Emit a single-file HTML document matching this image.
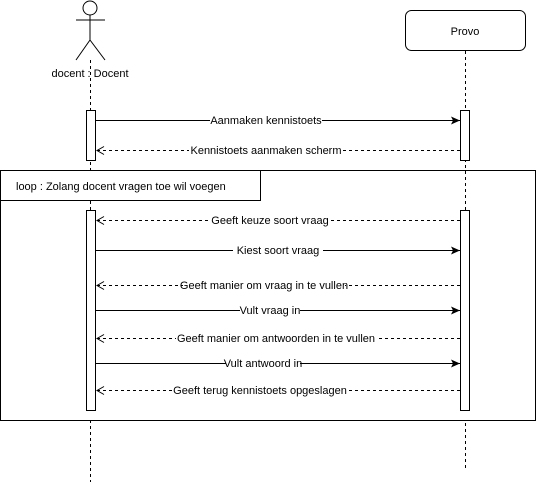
<!DOCTYPE html>
<html><head><meta charset="utf-8"><style>
html,body{margin:0;padding:0;background:#fff;width:537px;height:482px;overflow:hidden}
text{font-family:"Liberation Sans",Arial,sans-serif;font-size:11px;fill:#000}
</style></head><body>
<svg width="537" height="482" viewBox="0 0 537 482" xmlns="http://www.w3.org/2000/svg">
<defs>
<marker id="fa" markerWidth="10" markerHeight="8" refX="9" refY="4" orient="auto" markerUnits="userSpaceOnUse"><path d="M0,0 L9,4 L0,8 L2,4 Z" fill="#000"/></marker>
</defs>
<!-- actor -->
<circle cx="90" cy="8" r="7" fill="#fff" stroke="#000"/>
<line x1="90" y1="15" x2="90" y2="40" stroke="#000"/>
<line x1="76" y1="20" x2="105" y2="20" stroke="#000"/>
<line x1="90" y1="40" x2="76" y2="60" stroke="#000"/>
<line x1="90" y1="40" x2="105" y2="60" stroke="#000"/>
<text x="90" y="77" text-anchor="middle">docent : Docent</text>
<!-- provo -->
<rect x="405.5" y="10.5" width="120" height="40" rx="6" fill="#fff" stroke="#000"/>
<text x="465" y="35" text-anchor="middle">Provo</text>
<!-- lifelines -->
<line x1="90.5" y1="60" x2="90.5" y2="482" stroke="#000" stroke-dasharray="3,3"/>
<line x1="465.5" y1="51" x2="465.5" y2="468" stroke="#000" stroke-dasharray="3,3"/>
<!-- loop frame -->
<rect x="0.5" y="170.5" width="535" height="250" fill="#fff" stroke="#000"/>
<rect x="0.5" y="170.5" width="260" height="30" fill="#fff" stroke="#000"/>
<text x="16" y="190">loop : Zolang docent vragen toe wil voegen</text>
<line x1="90.5" y1="201" x2="90.5" y2="210" stroke="#000" stroke-dasharray="3,3"/>
<line x1="465.5" y1="171" x2="465.5" y2="210" stroke="#000" stroke-dasharray="3,3"/>
<!-- activations -->
<rect x="86.5" y="110.5" width="9" height="50" fill="#fff" stroke="#000"/>
<rect x="460.5" y="110.5" width="9" height="50" fill="#fff" stroke="#000"/>
<rect x="86.5" y="210.5" width="9" height="200" fill="#fff" stroke="#000"/>
<rect x="460.5" y="210.5" width="9" height="200" fill="#fff" stroke="#000"/>
<!-- messages -->
<g stroke="#000" fill="none">
<line x1="96" y1="120.5" x2="460" y2="120.5" marker-end="url(#fa)"/>
<line x1="460" y1="150.5" x2="96" y2="150.5" stroke-dasharray="3,3"/>
<line x1="460" y1="220.5" x2="96" y2="220.5" stroke-dasharray="3,3"/>
<line x1="96" y1="250.5" x2="460" y2="250.5" marker-end="url(#fa)"/>
<line x1="460" y1="285.5" x2="96" y2="285.5" stroke-dasharray="3,3"/>
<line x1="96" y1="310.5" x2="460" y2="310.5" marker-end="url(#fa)"/>
<line x1="460" y1="338.5" x2="96" y2="338.5" stroke-dasharray="3,3"/>
<line x1="96" y1="363.5" x2="460" y2="363.5" marker-end="url(#fa)"/>
<line x1="460" y1="390.5" x2="96" y2="390.5" stroke-dasharray="3,3"/>
<path d="M104,146.5 L97,150.5 L104,154.5"/>
<path d="M104,216.5 L97,220.5 L104,224.5"/>
<path d="M104,281.5 L97,285.5 L104,289.5"/>
<path d="M104,334.5 L97,338.5 L104,342.5"/>
<path d="M104,386.5 L97,390.5 L104,394.5"/>
</g>
<g text-anchor="middle">
<rect x="210" y="113" width="112" height="14" fill="#fff"/><text x="266" y="124">Aanmaken kennistoets</text>
<rect x="189" y="143" width="154" height="14" fill="#fff"/><text x="266" y="154">Kennistoets aanmaken scherm</text>
<rect x="210" y="213" width="120" height="14" fill="#fff"/><text x="270" y="224">Geeft keuze soort vraag</text>
<rect x="233" y="243" width="90" height="14" fill="#fff"/><text x="278" y="254">Kiest soort vraag</text>
<rect x="183" y="278" width="162" height="14" fill="#fff"/><text x="264" y="289">Geeft manier om vraag in te vullen</text>
<rect x="240" y="303" width="60" height="14" fill="#fff"/><text x="270" y="314">Vult vraag in</text>
<rect x="176" y="331" width="200" height="14" fill="#fff"/><text x="276" y="342">Geeft manier om antwoorden in te vullen</text>
<rect x="226" y="356" width="74" height="14" fill="#fff"/><text x="263" y="367">Vult antwoord in</text>
<rect x="172" y="383" width="176" height="14" fill="#fff"/><text x="260" y="394">Geeft terug kennistoets opgeslagen</text>
</g>
</svg>
</body></html>
